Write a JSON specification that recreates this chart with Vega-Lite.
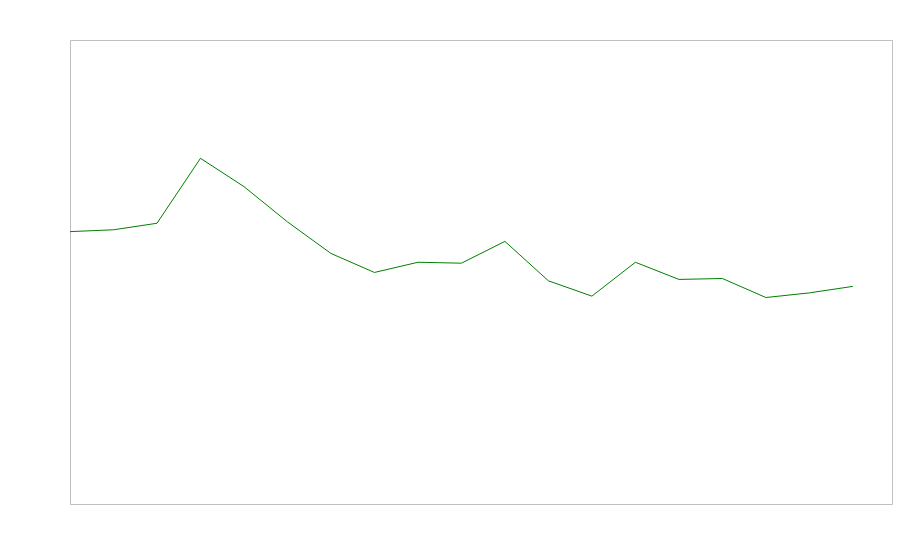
{
  "$schema": "https://vega.github.io/schema/vega-lite/v6.json",
  "width": 822,
  "height": 464,
  "autosize": {"type": "none"},
  "padding": {"left": 70, "top": 40, "right": 8, "bottom": 56},
  "background": "white",
  "config": {"view": {"stroke": "#c0c0c0", "strokeWidth": 1}},
  "data": {"values": [
    {"i": 0, "v": 58.7}, {"i": 1, "v": 59.1}, {"i": 2, "v": 60.5}, {"i": 3, "v": 74.5},
    {"i": 4, "v": 68.4}, {"i": 5, "v": 60.8}, {"i": 6, "v": 54.0}, {"i": 7, "v": 49.9},
    {"i": 8, "v": 52.1}, {"i": 9, "v": 51.9}, {"i": 10, "v": 56.6}, {"i": 11, "v": 48.1},
    {"i": 12, "v": 44.8}, {"i": 13, "v": 52.1}, {"i": 14, "v": 48.4}, {"i": 15, "v": 48.6},
    {"i": 16, "v": 44.5}, {"i": 17, "v": 45.5}, {"i": 18, "v": 46.9}
  ]},
  "mark": {"type": "line", "color": "#008000", "strokeWidth": 1, "clip": true},
  "encoding": {
    "x": {"field": "i", "type": "quantitative", "scale": {"domain": [0, 18.9], "nice": false, "zero": false}, "axis": null},
    "y": {"field": "v", "type": "quantitative", "scale": {"domain": [0, 100], "nice": false}, "axis": null}
  }
}
